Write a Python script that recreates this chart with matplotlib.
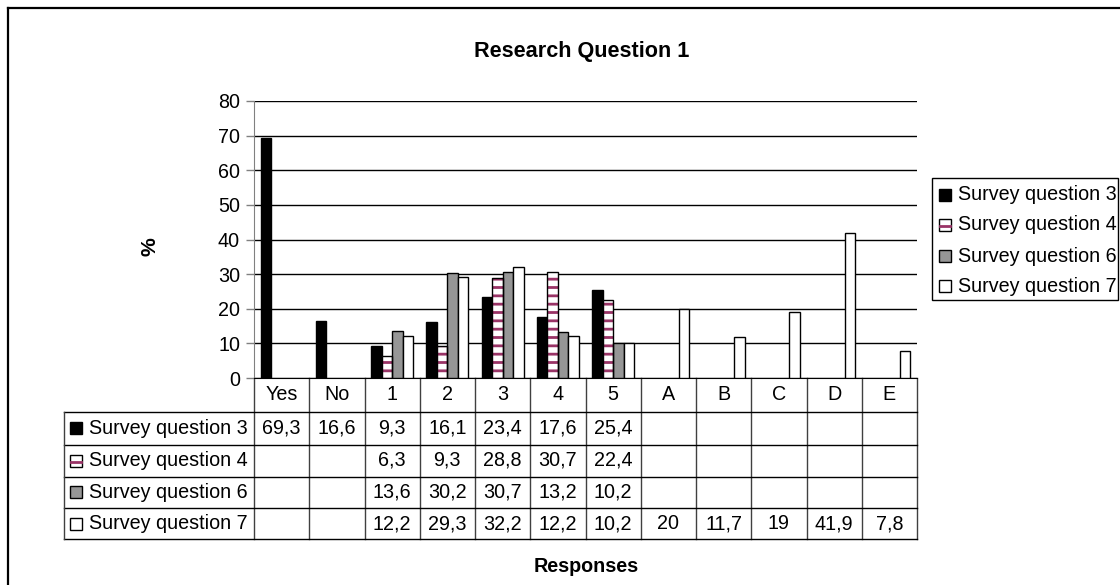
import numpy as np
import matplotlib
matplotlib.use("Agg")
import matplotlib.pyplot as plt
from matplotlib.patches import Rectangle
from matplotlib.transforms import blended_transform_factory

plt.rcParams["font.family"] = ["Liberation Sans", "DejaVu Sans"]
plt.rcParams["hatch.linewidth"] = 2.0

categories = ["Yes", "No", "1", "2", "3", "4", "5", "A", "B", "C", "D", "E"]
series_names = ["Survey question 3", "Survey question 4",
                "Survey question 6", "Survey question 7"]
sq3 = [69.3, 16.6, 9.3, 16.1, 23.4, 17.6, 25.4, None, None, None, None, None]
sq4 = [None, None, 6.3, 9.3, 28.8, 30.7, 22.4, None, None, None, None, None]
sq6 = [None, None, 13.6, 30.2, 30.7, 13.2, 10.2, None, None, None, None, None]
sq7 = [None, None, 12.2, 29.3, 32.2, 12.2, 10.2, 20, 11.7, 19, 41.9, 7.8]
yticks = [0, 10, 20, 30, 40, 50, 60, 70, 80]

PINK = "#993366"
GRAY = "#969696"
FS = 14.2
W, H = 1120, 585


def fmt(v):
    if v is None:
        return ""
    if float(v).is_integer():
        return str(int(v))
    return f"{v:.1f}".replace(".", ",")


def px_axes(l, t, r, b):
    return [l / W, 1 - b / H, (r - l) / W, (b - t) / H]


fig = plt.figure(figsize=(W / 100, H / 100), dpi=100)

# overlay in pixel coordinates for frame, table, legend
ov = fig.add_axes([0, 0, 1, 1])
ov.set_xlim(0, W); ov.set_ylim(H, 0); ov.axis("off")

ax = fig.add_axes(px_axes(254, 101, 917, 378))
x = np.arange(len(categories))
bw = 0.19
fills = ["black", "white", GRAY, "white"]
for i, (vals, fc) in enumerate(zip([sq3, sq4, sq6, sq7], fills)):
    v = np.array([np.nan if a is None else a for a in vals], dtype=float)
    xs = x + (i - 1.5) * bw
    if i == 1:
        # pink horizontal stripes, then the black outline on top
        ax.bar(xs, v, bw, color="white", edgecolor=PINK, hatch="--", lw=0, zorder=3)
        ax.bar(xs, v, bw, fill=False, edgecolor="black", lw=1.0, zorder=4)
    else:
        ax.bar(xs, v, bw, color=fc, edgecolor="black", lw=1.0, zorder=3)

ax.set_xlim(-0.5, len(categories) - 0.5)
ax.set_ylim(0, 80)
ax.set_yticks(yticks)
ax.tick_params(axis="y", labelsize=FS, length=6, width=1, color="#808080", pad=4)
ax.tick_params(axis="x", bottom=False, labelbottom=False)
ax.yaxis.grid(True, color="black", lw=1.0)
ax.set_axisbelow(True)
for s in ("top", "right"):
    ax.spines[s].set_visible(False)
ax.spines["left"].set_color("#808080")
ax.spines["bottom"].set_color("black")
ax.patch.set_alpha(0)

# outer frame (right/bottom fall outside image)
ov.plot([8, 8], [8, H + 5], color="black", lw=1.6, clip_on=False)
ov.plot([8, W + 5], [8, 8], color="black", lw=1.6, clip_on=False)

ov.text(582, 52, "Research Question 1", ha="center", va="center",
        fontsize=15.6, fontweight="bold")
ov.text(150, 247, "%", ha="center", va="center", rotation=90,
        fontsize=FS + 1, fontweight="bold")
ov.text(586, 566, "Responses", ha="center", va="center",
        fontsize=FS, fontweight="bold")

# data table
tr = blended_transform_factory(ax.transData, ov.transData)
rows_y = [378, 412, 444.5, 476.5, 508, 539]
n = len(categories)
lc = "#404040"
for k in range(n + 1):
    xe = k - 0.5
    ov.plot([xe, xe], [rows_y[0], rows_y[-1]], color=lc, lw=1.0, transform=tr, clip_on=False)
for yy in rows_y[1:]:
    ov.plot([64, 917], [yy, yy], color="black", lw=1.0, clip_on=False)
ov.plot([64, 64], [rows_y[1], rows_y[-1]], color=lc, lw=1.0, clip_on=False)

for k, c in enumerate(categories):
    ov.text(k, (rows_y[0] + rows_y[1]) / 2, c, ha="center", va="center",
            fontsize=FS, transform=tr)


def key(xk, yc, i):
    s = 12
    ov.add_patch(Rectangle((xk, yc - s / 2), s, s, fc=fills[i], ec="black", lw=1))
    if i == 1:
        ov.plot([xk + 1, xk + s - 1], [yc + 1, yc + 1], color=PINK, lw=2)


for j, (name, vals) in enumerate(zip(series_names, [sq3, sq4, sq6, sq7])):
    yc = (rows_y[j + 1] + rows_y[j + 2]) / 2
    key(70, yc, j)
    ov.text(89, yc, name, ha="left", va="center", fontsize=FS)
    for k, v in enumerate(vals):
        ov.text(k, yc, fmt(v), ha="center", va="center", fontsize=FS, transform=tr)

# legend
ov.add_patch(Rectangle((932, 178), 186, 122, fc="white", ec="black", lw=1.0, clip_on=False))
for j, (name, yc) in enumerate(zip(series_names, [195, 225, 256, 286])):
    key(939, yc, j)
    ov.text(958, yc, name, ha="left", va="center", fontsize=FS)

fig.savefig("out.png", dpi=100)
